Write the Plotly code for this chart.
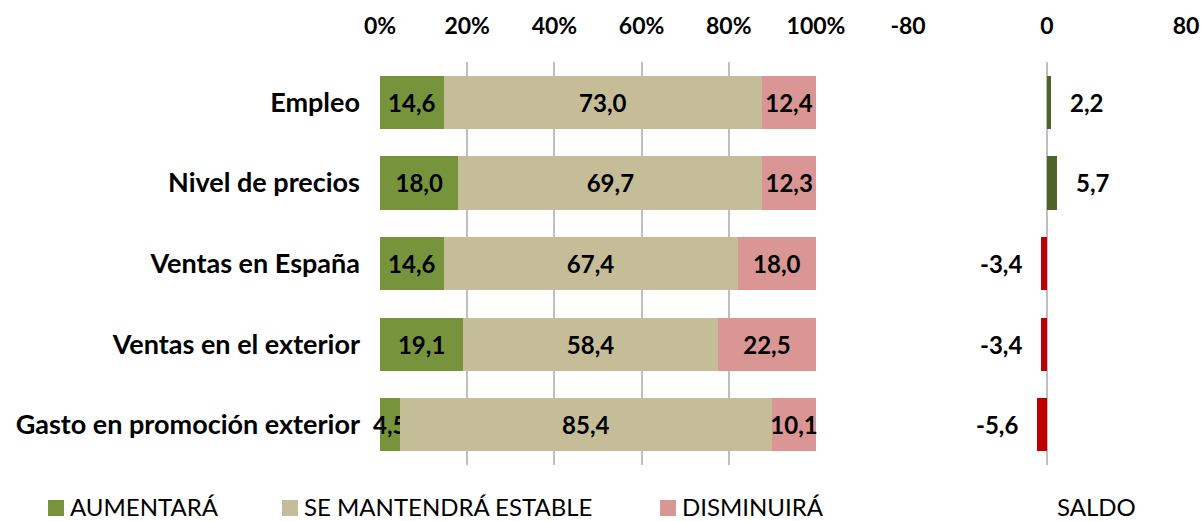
import plotly.graph_objects as go

categories = ["Empleo", "Nivel de precios", "Ventas en España",
              "Ventas en el exterior", "Gasto en promoción exterior"]
aumentara = [14.6, 18.0, 14.6, 19.1, 4.5]
estable = [73.0, 69.7, 67.4, 58.4, 85.4]
disminuira = [12.4, 12.3, 18.0, 22.5, 10.1]
saldo = [2.2, 5.7, -3.4, -3.4, -5.6]
pct_ticks = [0, 20, 40, 60, 80, 100]
pct_labels = ["0%", "20%", "40%", "60%", "80%", "100%"]
saldo_ticks = [-80, 0, 80]
saldo_labels = ["-80", "0", "80"]
legend_names = ["AUMENTARÁ", "SE MANTENDRÁ ESTABLE", "DISMINUIRÁ"]
saldo_name = "SALDO"

FONT = "Lato"
W, H = 1203, 521
MT, MB = 62, 56
PH = H - MT - MB
GRID = "#BFBFBF"
colors = ["#77933C", "#C4BD97", "#DA9694"]

fig = go.Figure()

for name, vals, col in zip(legend_names, [aumentara, estable, disminuira], colors):
    fig.add_trace(go.Bar(
        y=categories, x=vals, orientation="h", name=name,
        marker=dict(color=col, line=dict(width=0)),
        width=0.66,
        text=[f"{v:.1f}".replace(".", ",") for v in vals],
        textposition="inside", insidetextanchor="middle",
        textangle=0, constraintext="none",
        textfont=dict(family=FONT, size=24, color="black", weight="bold"),
        cliponaxis=False, showlegend=False,
        xaxis="x", yaxis="y",
        hoverinfo="skip",
    ))

fig.add_trace(go.Bar(
    y=categories, x=saldo, orientation="h", name=saldo_name,
    marker=dict(color=["#4F6228" if v > 0 else "#C00000" for v in saldo],
                line=dict(width=0)),
    width=0.66, xaxis="x2", yaxis="y2", showlegend=False,
    hoverinfo="skip",
))

for c, v in zip(categories, saldo):
    fig.add_annotation(
        x=v, y=c, xref="x2", yref="y2",
        text=f"{v:.1f}".replace(".", ","), showarrow=False,
        xanchor="left" if v > 0 else "right",
        xshift=17 if v > 0 else -17,
        font=dict(family=FONT, size=24, color="black", weight="bold"),
    )

# legend (drawn manually so that it does not push the plot margins)
def py(p):
    return (H - MB - p) / PH

leg_x = [48, 282, 660]
for name, col, lx in zip(legend_names, colors, leg_x):
    fig.add_shape(type="rect", xref="paper", yref="paper",
                  x0=lx / W, x1=(lx + 16) / W, y0=py(516), y1=py(500),
                  fillcolor=col, line=dict(width=0))
    fig.add_annotation(x=(lx + 21) / W, y=py(506), xref="paper", yref="paper",
                       text=name, showarrow=False, xanchor="left", yanchor="middle",
                       borderpad=0,
                       font=dict(family=FONT, size=24, color="black"))

fig.add_annotation(
    x=1096 / W, y=py(506), xref="paper", yref="paper",
    text=saldo_name, showarrow=False, xanchor="center", yanchor="middle",
    borderpad=0,
    font=dict(family=FONT, size=24, color="black"),
)

x0, x1 = 380 / W, 816 / W
x2a, x2b = 908 / W, 1186 / W
tickfont = dict(family=FONT, size=23, color="black", weight="bold")

fig.update_layout(
    width=W, height=H,
    margin=dict(l=0, r=0, t=MT, b=MB),
    paper_bgcolor="white", plot_bgcolor="white",
    barmode="stack",
    separators=",.",
    showlegend=False,
    font=dict(family=FONT, size=20, color="black"),
    xaxis=dict(domain=[x0, x1], range=[0, 100], side="top",
               tickvals=pct_ticks, ticktext=pct_labels,
               showgrid=True, gridcolor=GRID, gridwidth=2,
               zeroline=False, showline=False, ticks="",
               ticklabelstandoff=22, automargin=False,
               tickfont=tickfont),
    yaxis=dict(domain=[0, 1], autorange="reversed", showgrid=False,
               zeroline=False, showline=False, ticks="",
               ticklabelstandoff=19, automargin=False,
               tickfont=dict(family=FONT, size=27, color="black", weight="bold")),
    xaxis2=dict(domain=[x2a, x2b], range=[-80, 80], side="top",
                tickvals=saldo_ticks, ticktext=saldo_labels, anchor="y2",
                showgrid=True, gridcolor=GRID, gridwidth=2,
                zeroline=True, zerolinecolor=GRID, zerolinewidth=2,
                showline=False, ticks="", ticklabelstandoff=22,
                automargin=False, tickfont=tickfont),
    yaxis2=dict(domain=[0, 1], matches="y", anchor="x2", showticklabels=False,
                showgrid=False, zeroline=False, showline=False, ticks="",
                automargin=False),
)

fig.write_html(
    "out.html",
    config={"displayModeBar": False},
    post_script="document.body.style.margin='0';document.body.style.overflow='hidden';",
)
